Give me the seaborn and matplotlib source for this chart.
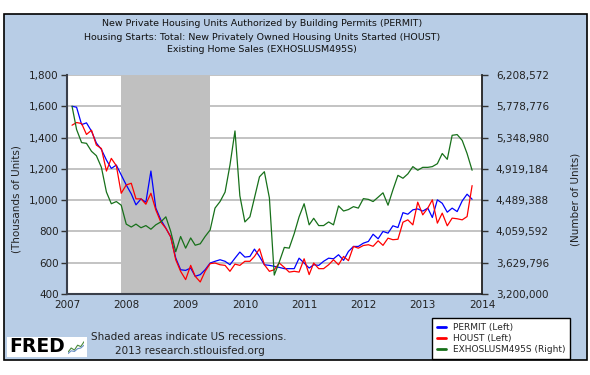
import numpy as np
import pandas as pd
import seaborn as sns
import matplotlib
matplotlib.use("Agg")
import matplotlib.pyplot as plt
from matplotlib.patches import Rectangle

# monthly data, Feb 2007 - Nov 2013
dates = pd.date_range("2007-02-01", "2013-11-01", freq="MS")

# thousands of units, SAAR
permit = [1600, 1594, 1483, 1494, 1441, 1365, 1324, 1256, 1203, 1224, 1161,
          1097, 1040, 970, 1008, 987, 1186, 950, 874, 821, 765, 630, 555,
          551, 566, 513, 524, 555, 598, 609, 619, 609, 587, 629, 668,
          636, 640, 687, 640, 587, 583, 577, 570, 562, 562, 562, 629,
          598, 566, 587, 583, 609, 629, 625, 651, 615, 672, 704, 704,
          725, 736, 782, 753, 800, 789, 836, 825, 920, 910, 938, 944,
          930, 949, 889, 1002, 980, 923, 949, 927, 995, 1038, 1006]

houst = [1479, 1496, 1490, 1420, 1447, 1352, 1330, 1186, 1267, 1220, 1044,
         1097, 1108, 1008, 1008, 974, 1044, 938, 860, 820, 765, 619, 545,
         492, 583, 513, 477, 545, 594, 598, 587, 583, 545, 591, 583,
         609, 609, 640, 689, 587, 545, 555, 598, 570, 540, 545, 540,
         625, 524, 598, 562, 562, 587, 619, 587, 640, 613, 704, 693,
         710, 715, 705, 740, 711, 757, 747, 750, 859, 874, 842, 987,
         906, 949, 1002, 853, 917, 836, 885, 881, 874, 895, 1093]

# existing home sales, millions of units
exhosl = [5.78, 5.46, 5.28, 5.27, 5.16, 5.10, 4.94, 4.60, 4.44, 4.47, 4.42,
          4.16, 4.12, 4.16, 4.11, 4.14, 4.09, 4.15, 4.19, 4.26, 4.06, 3.78, 3.99,
          3.83, 3.97, 3.87, 3.89, 3.99, 4.08, 4.38, 4.47, 4.60, 4.97, 5.44, 4.55,
          4.19, 4.26, 4.52, 4.81, 4.88, 4.52, 3.46, 3.64, 3.84, 3.83, 4.03, 4.26,
          4.44, 4.15, 4.24, 4.14, 4.14, 4.19, 4.15, 4.41, 4.34, 4.36, 4.40, 4.38,
          4.51, 4.50, 4.47, 4.53, 4.59, 4.42, 4.63, 4.83, 4.79, 4.85, 4.95, 4.90,
          4.94, 4.94, 4.95, 4.99, 5.13, 5.05, 5.38, 5.39, 5.31, 5.13, 4.90]
exhosl = [v * 1e6 for v in exhosl]

left_ticks = [400, 600, 800, 1000, 1200, 1400, 1600, 1800]
right_ticks = [3200000, 3629796, 4059592, 4489388, 4919184, 5348980, 5778776, 6208572]
years = [2007, 2008, 2009, 2010, 2011, 2012, 2013, 2014]
recession = ("2007-12-01", "2009-06-01")

title_lines = ["New Private Housing Units Authorized by Building Permits (PERMIT)",
               "Housing Starts: Total: New Privately Owned Housing Units Started (HOUST)",
               "Existing Home Sales (EXHOSLUSM495S)"]

W, H = 590, 375
sns.set_style("white")
plt.rcParams["font.family"] = ["DejaVu Sans"]

fig = plt.figure(figsize=(W / 100, H / 100), dpi=100)
fig.patch.set_facecolor("white")

def fx(px):
    return px / W

def fy(py):
    return 1 - py / H

# blue panel with black border
fig.patches.append(Rectangle((fx(4), fy(360)), fx(583), 346 / H, transform=fig.transFigure,
                             facecolor="#B8CDE6", edgecolor="black", lw=1.2, zorder=-10))

ax = fig.add_axes([fx(67), fy(294), fx(415), 219 / H])
ax.set_zorder(1)
ax.set_facecolor("white")
ax.axvspan(pd.Timestamp(recession[0]), pd.Timestamp(recession[1]), color="#C0C0C0", lw=0, zorder=1)

sns.lineplot(x=dates, y=permit, ax=ax, color="#0000FF", lw=0.9, label="PERMIT (Left)", zorder=3)
sns.lineplot(x=dates, y=houst, ax=ax, color="#FF0000", lw=0.9, label="HOUST (Left)", zorder=3)

ax.set_ylim(400, 1800)
ax.set_yticks(left_ticks)
ax.set_yticklabels([f"{t:,}" for t in left_ticks], fontsize=7.5, color="#222222")
ax.yaxis.grid(True, color="#BEBEBE", lw=1.3)
ax.set_axisbelow(True)
ax.set_xlim(pd.Timestamp("2007-01-01"), pd.Timestamp("2014-01-01"))
ax.set_xticks([pd.Timestamp(f"{y}-01-01") for y in years])
ax.set_xticklabels([str(y) for y in years], fontsize=7.5, color="#222222")
ax.tick_params(axis="x", direction="in", length=4, width=1, color="#333333", pad=4)
ax.tick_params(axis="y", direction="out", length=4, width=1, color="#333333", pad=2)
ax.set_xlabel("")
ax.set_ylabel("")
for s in ["left", "bottom"]:
    ax.spines[s].set_color("#3A3F4A")
    ax.spines[s].set_linewidth(1.5)
ax.spines["top"].set_visible(False)
ax.spines["right"].set_visible(False)

ax2 = ax.twinx()
ax2.set_zorder(2)
sns.lineplot(x=dates, y=exhosl, ax=ax2, color="#17701A", lw=0.9, label="EXHOSLUSM495S (Right)")
ax2.set_ylim(right_ticks[0], right_ticks[-1])
ax2.set_yticks(right_ticks)
ax2.set_yticklabels([f"{t:,}" for t in right_ticks], fontsize=7.5, color="#222222")
ax2.tick_params(axis="y", direction="out", length=4, width=1, color="#333333", pad=6)
ax2.set_ylabel("")
ax2.patch.set_visible(False)
ax2.spines["right"].set_color("#222222")
ax2.spines["right"].set_linewidth(1.3)
for s in ["left", "top", "bottom"]:
    ax2.spines[s].set_visible(False)

h1, l1 = ax.get_legend_handles_labels()
h2, l2 = ax2.get_legend_handles_labels()
ax.get_legend().remove()
ax2.get_legend().remove()
leg = fig.legend(h1 + h2, l1 + l2, loc="lower left", bbox_to_anchor=(fx(432), fy(359)),
                 fontsize=6.5, frameon=True, fancybox=False, framealpha=1,
                 edgecolor="black", handlelength=1.0, handletextpad=0.8,
                 labelspacing=0.25, borderpad=0.5, borderaxespad=0)
leg.get_frame().set_linewidth(1.0)
for line in leg.get_lines():
    line.set_linewidth(2)

for i, t in enumerate(title_lines):
    fig.text(fx(262), fy(24 + 13 * i), t, ha="center", va="center", fontsize=6.8, color="#111111")

fig.text(fx(17), fy(199), "(Thousands of Units)", rotation=90, ha="center", va="center",
         fontsize=7.5, color="#222222")
fig.text(fx(575), fy(199), "(Number of Units)", rotation=90, ha="center", va="center",
         fontsize=7.5, color="#222222")

fig.text(fx(189), fy(337), "Shaded areas indicate US recessions.", ha="center", va="center",
         fontsize=7.5, color="#222222")
fig.text(fx(190), fy(351), "2013 research.stlouisfed.org", ha="center", va="center",
         fontsize=7.5, color="#222222")

# FRED logo
fig.patches.append(Rectangle((fx(7), fy(357)), fx(80), 20 / H, transform=fig.transFigure,
                             facecolor="white", edgecolor="none", zorder=-5))
fig.text(fx(9), fy(347), "FRED", ha="left", va="center", fontsize=13.5, fontweight="bold",
         color="black", zorder=2)
icon = fig.add_axes([fx(68), fy(355), fx(16), 14 / H])
icon.set_zorder(3)
icon.plot([0, 1, 2, 3, 4, 5], [0.2, 0.5, 0.35, 0.7, 0.6, 0.95], color="#4A8A3A", lw=0.8)
icon.plot([0, 1, 2, 3, 4, 5], [0.1, 0.3, 0.25, 0.45, 0.5, 0.7], color="#6A8FC8", lw=0.8)
icon.set_xlim(0, 5)
icon.set_ylim(0, 1)
icon.axis("off")

fig.savefig("out.png", dpi=100)
